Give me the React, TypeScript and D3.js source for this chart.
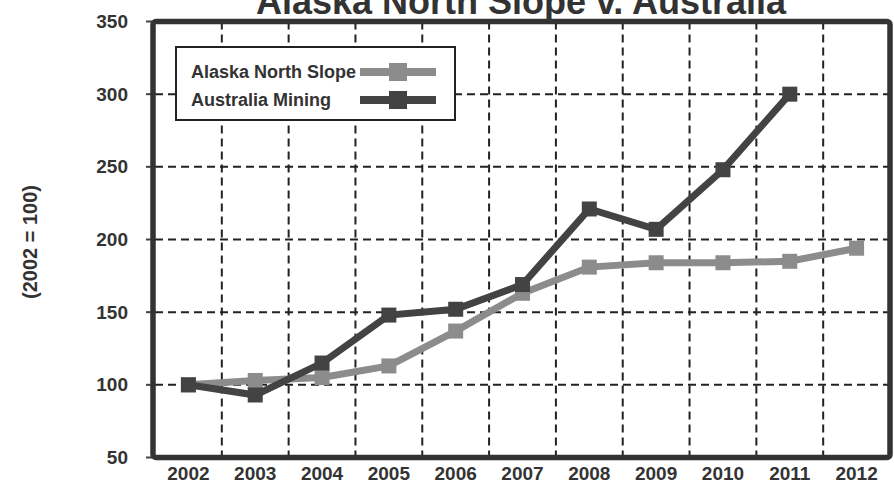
import React from "react";
import * as d3 from "d3";

const years = ["2002", "2003", "2004", "2005", "2006", "2007", "2008", "2009", "2010", "2011", "2012"];
const alaska = [100, 103, 105, 113, 137, 163, 181, 184, 184, 185, 194];
const australia: (number | null)[] = [100, 93, 115, 148, 152, 169, 221, 207, 248, 300, null];
const yTicks = [50, 100, 150, 200, 250, 300, 350];
const seriesNames = ["Alaska North Slope", "Australia Mining"];
const title = "Alaska North Slope v. Australia";
const yTitle = "(2002 = 100)";

const W = 894;
const H = 486;
const left = 155;
const right = 890;
const top = 21.5;
const bottom = 457.5;
const font = "'Liberation Sans', Arial, sans-serif";
const textColor = "#333";
const light = "#8c8c8c";
const dark = "#434343";

export default function App() {
  const x = d3.scaleBand<string>().domain(years).range([left, right]).paddingInner(0).paddingOuter(0);
  const y = d3.scaleLinear().domain([50, 350]).range([bottom, top]);
  const cx = (yr: string) => (x(yr) as number) + x.bandwidth() / 2;

  const lineGen = d3
    .line<number | null>()
    .defined((d) => d != null)
    .x((_, i) => cx(years[i]))
    .y((d) => y(d as number));

  const series = [
    { name: seriesNames[0], values: alaska as (number | null)[], color: light },
    { name: seriesNames[1], values: australia, color: dark },
  ];
  const m = 15;

  return (
    <svg
      width={W}
      height={H}
      style={{ position: "absolute", left: 0, top: 0, background: "#fff" }}
      fontFamily={font}
    >
      <rect x={0} y={0} width={W} height={H} fill="#fff" />
      <text x={521} y={14} textAnchor="middle" fontSize={36} fontWeight="bold" fill={textColor}>
        {title}
      </text>

      {/* horizontal grid */}
      {yTicks
        .filter((t) => t > 50 && t < 350)
        .map((t) => (
          <line
            key={"h" + t}
            x1={left}
            x2={right}
            y1={y(t)}
            y2={y(t)}
            stroke="#222"
            strokeWidth={2}
            strokeDasharray="8 5"
          />
        ))}
      {/* vertical grid at category boundaries */}
      {years.slice(1).map((yr) => (
        <line
          key={"v" + yr}
          x1={x(yr)}
          x2={x(yr)}
          y1={top}
          y2={bottom}
          stroke="#222"
          strokeWidth={2}
          strokeDasharray="8 5"
        />
      ))}

      {/* y ticks */}
      {yTicks.map((t) => (
        <g key={"yt" + t}>
          <line x1={left - 9} x2={left - 3} y1={y(t)} y2={y(t)} stroke="#444" strokeWidth={2} />
          <text
            x={128}
            y={y(t)}
            dy="0.35em"
            textAnchor="end"
            fontSize={19}
            fontWeight="bold"
            fill={textColor}
          >
            {t}
          </text>
        </g>
      ))}
      {/* x labels */}
      {years.map((yr) => (
        <text
          key={"xl" + yr}
          x={cx(yr)}
          y={480}
          textAnchor="middle"
          fontSize={19}
          fontWeight="bold"
          fill={textColor}
        >
          {yr}
        </text>
      ))}

      <text
        transform={`translate(37,242) rotate(-90)`}
        textAnchor="middle"
        fontSize={20}
        fontWeight="bold"
        fill={textColor}
      >
        {yTitle}
      </text>

      {/* series */}
      {series.map((s) => (
        <g key={s.name}>
          <path d={lineGen(s.values) || ""} fill="none" stroke={s.color} strokeWidth={7} strokeLinejoin="miter" />
          {s.values.map((v, i) =>
            v == null ? null : (
              <rect
                key={i}
                x={cx(years[i]) - m / 2}
                y={y(v) - m / 2}
                width={m}
                height={m}
                fill={s.color}
              />
            )
          )}
        </g>
      ))}

      {/* frame */}
      <rect
        x={153}
        y={top}
        width={737}
        height={bottom - top}
        fill="none"
        stroke="#333"
        strokeWidth={5.5}
        rx={3}
      />

      {/* legend */}
      <rect x={176} y={47} width={279} height={73} fill="#fff" stroke="#222" strokeWidth={2} />
      {series.map((s, i) => {
        const ly = 72 + i * 28;
        return (
          <g key={"lg" + s.name}>
            <text x={191} y={ly} dy="0.35em" fontSize={18} fontWeight="bold" fill={textColor}>
              {s.name}
            </text>
            <line x1={360} x2={436} y1={ly} y2={ly} stroke={s.color} strokeWidth={8} />
            <rect x={398 - 9} y={ly - 9} width={18} height={18} fill={s.color} />
          </g>
        );
      })}
    </svg>
  );
}
